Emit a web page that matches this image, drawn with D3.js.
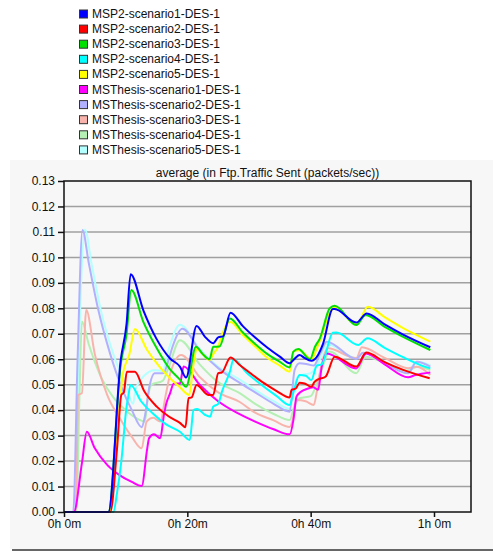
<!DOCTYPE html>
<html>
<head>
<meta charset="utf-8">
<script src="https://cdn.jsdelivr.net/npm/d3@7"></script>
<style>
  body { margin: 0; background: #fff; }
  svg { display: block; font-family: "Liberation Sans", Arial, sans-serif; }
</style>
</head>
<body>
<div id="chart"></div>
<script>
const width = 493, height = 552;

// series names (legend order)
const seriesNames = [
  "MSP2-scenario1-DES-1", "MSP2-scenario2-DES-1", "MSP2-scenario3-DES-1",
  "MSP2-scenario4-DES-1", "MSP2-scenario5-DES-1",
  "MSThesis-scenario1-DES-1", "MSThesis-scenario2-DES-1", "MSThesis-scenario3-DES-1",
  "MSThesis-scenario4-DES-1", "MSThesis-scenario5-DES-1"
];
const seriesColors = [
  "#0000ff", "#ff0000", "#00e000", "#00ffff", "#ffff00",
  "#ff00ff", "#b0b0ff", "#f8b4ac", "#b4f0b4", "#b4ffff"
];

// time in minutes / average packets per sec
const msp2s1T = [0, 7.2, 9.2, 10.15, 10.8, 12.9, 15, 17.2, 18.8, 19.8, 21.5, 22.8, 24.2, 25.0, 25.8, 27.0, 29, 31, 33, 35, 36.6, 37.2, 38.2, 39.0, 40.1, 41.2, 42.0, 43.6, 43.9, 47.4, 49.1, 52, 55, 59.4];
const msp2s1V = [0, 0, 0.0597, 0.074, 0.0934, 0.079, 0.068, 0.0603, 0.0571, 0.0528, 0.0731, 0.069, 0.0663, 0.0686, 0.069, 0.0783, 0.073, 0.0685, 0.0645, 0.061, 0.0584, 0.0597, 0.0617, 0.0605, 0.0594, 0.0617, 0.066, 0.0797, 0.0797, 0.0744, 0.078, 0.0737, 0.0697, 0.0647];

const msp2s2T = [0, 7.5, 8.6, 9.3, 9.7, 10.2, 11.5, 13, 15, 17, 18.8, 19.7, 20.2, 20.7, 21.5, 23.4, 24.2, 25, 25.6, 27.0, 28.5, 30.5, 32.5, 34.5, 36.6, 36.9, 37.6, 38.2, 39, 40.1, 40.6, 41.2, 42.4, 43.9, 47.4, 49.0, 52, 55, 59.3];
const msp2s2V = [0, 0, 0.025, 0.046, 0.047, 0.0551, 0.0551, 0.0475, 0.0415, 0.0375, 0.035, 0.0333, 0.0447, 0.045, 0.0499, 0.046, 0.046, 0.0545, 0.0548, 0.0607, 0.0577, 0.054, 0.0505, 0.0475, 0.045, 0.048, 0.0485, 0.0508, 0.0505, 0.0492, 0.051, 0.0521, 0.0531, 0.061, 0.0571, 0.0626, 0.0589, 0.0558, 0.0525];

const msp2s3T = [0, 7.2, 9.2, 10.15, 10.9, 12.9, 15, 17.2, 18.8, 19.8, 21.4, 22.5, 23.6, 24.2, 25.2, 26.9, 29, 31, 33, 35, 36.6, 37.2, 38, 39.9, 40.7, 41.5, 43.1, 43.9, 47.4, 48.9, 52, 55, 59.4];
const msp2s3V = [0, 0, 0.058, 0.07, 0.0872, 0.0745, 0.0645, 0.056, 0.052, 0.0492, 0.0649, 0.062, 0.06, 0.0649, 0.065, 0.076, 0.0705, 0.066, 0.062, 0.059, 0.0568, 0.063, 0.064, 0.06, 0.0649, 0.0682, 0.08, 0.081, 0.0734, 0.0774, 0.0727, 0.0688, 0.0636];

const msp2s4T = [0, 8.0, 8.6, 9.3, 10.15, 10.4, 10.8, 12.5, 14.5, 16.5, 18.8, 20.4, 21, 21.6, 22.9, 23.7, 24.2, 25, 25.6, 26.9, 27.5, 29.5, 32, 34.5, 36.6, 37.2, 38.2, 39.2, 40.1, 41.0, 41.8, 43.6, 44.2, 47.7, 49.2, 52, 55, 58.5, 59.4];
const msp2s4V = [0, 0, 0.0075, 0.02, 0.0414, 0.045, 0.0499, 0.0435, 0.0385, 0.0345, 0.0315, 0.0283, 0.04, 0.0405, 0.0381, 0.0374, 0.0414, 0.0425, 0.0472, 0.0551, 0.06, 0.055, 0.05, 0.0455, 0.042, 0.047, 0.0538, 0.0535, 0.0518, 0.0575, 0.058, 0.0704, 0.0705, 0.0656, 0.0682, 0.0645, 0.0608, 0.0571, 0.0564];

const msp2s5T = [0, 7.3, 9.6, 10.6, 11.5, 13.5, 15.5, 17.2, 18.8, 20.3, 21.0, 21.5, 22.5, 23.6, 24.2, 25, 25.6, 26.9, 29, 31, 33, 35, 36.6, 37.2, 38.2, 40.1, 41.2, 43.3, 43.9, 47.4, 49.3, 52, 55, 59.4];
const msp2s5V = [0, 0, 0.055, 0.062, 0.0719, 0.0635, 0.057, 0.0525, 0.049, 0.046, 0.058, 0.064, 0.062, 0.0597, 0.062, 0.065, 0.0695, 0.0747, 0.0695, 0.065, 0.0605, 0.0575, 0.0551, 0.063, 0.0635, 0.06, 0.0655, 0.079, 0.0805, 0.0736, 0.0806, 0.0765, 0.0722, 0.0669];

const mst1T = [0, 1.6, 2.9, 3.7, 5, 7, 9, 11, 12.6, 13.5, 13.8, 14.6, 15.6, 16.2, 16.6, 17.2, 17.8, 18.8, 19.4, 22, 25, 28, 31, 34, 36.6, 37.2, 37.7, 38.3, 39.7, 40.4, 41.2, 41.8, 42.6, 47.4, 49, 52, 55.8, 57, 59.4];
const mst1V = [0, 0, 0.0191, 0.0315, 0.025, 0.0185, 0.0145, 0.0118, 0.0102, 0.025, 0.029, 0.0305, 0.029, 0.038, 0.0427, 0.0466, 0.0505, 0.0505, 0.0571, 0.05, 0.0435, 0.039, 0.0355, 0.0325, 0.0305, 0.0361, 0.0453, 0.047, 0.0486, 0.049, 0.048, 0.0571, 0.0623, 0.0564, 0.0623, 0.058, 0.0529, 0.0538, 0.0548];

const mst2T = [0, 1.5, 2.2, 3.0, 4, 5.5, 7.5, 9.5, 11, 12.6, 13.1, 13.9, 14.7, 16.1, 17, 17.6, 19.2, 22, 25, 28.5, 31, 34, 36.6, 37.4, 38.2, 39.5, 40.5, 41.5, 42.6, 47.4, 48.5, 52, 55.8, 57.2, 59.4];
const mst2V = [0, 0, 0.06, 0.1108, 0.098, 0.08, 0.062, 0.048, 0.04, 0.0333, 0.0374, 0.0499, 0.0545, 0.0545, 0.06, 0.0649, 0.072, 0.0635, 0.0565, 0.0507, 0.047, 0.0425, 0.0394, 0.0558, 0.0584, 0.058, 0.0575, 0.062, 0.0669, 0.0601, 0.0625, 0.0585, 0.0545, 0.059, 0.0571];

const mst3T = [0, 1.9, 2.3, 2.9, 3.6, 5, 7, 9, 11, 12.6, 13.4, 14.5, 15.6, 16.5, 17.3, 19, 22, 25, 28.5, 31, 34, 36.6, 37.2, 37.7, 39.2, 40.5, 41.0, 41.6, 42.8, 47.4, 48.3, 52, 55.8, 57.2, 59.4];
const mst3V = [0, 0, 0.046, 0.0466, 0.0793, 0.062, 0.046, 0.037, 0.0295, 0.025, 0.0355, 0.037, 0.0355, 0.046, 0.055, 0.0617, 0.053, 0.047, 0.0432, 0.039, 0.036, 0.0334, 0.0374, 0.044, 0.0435, 0.042, 0.0473, 0.056, 0.0643, 0.0604, 0.0647, 0.0605, 0.0565, 0.057, 0.0538];

const mst4T = [0, 2.0, 2.5, 2.9, 4, 6, 8, 10, 12, 13.1, 13.6, 14.2, 16, 17, 18.8, 22, 25, 28.5, 31, 34, 36.6, 37.4, 38.2, 40, 41.5, 43.1, 47.4, 48.9, 52, 55.8, 57.2, 59.4];
const mst4V = [0, 0, 0.045, 0.0748, 0.066, 0.053, 0.045, 0.04, 0.0365, 0.0355, 0.045, 0.05, 0.0515, 0.057, 0.0675, 0.058, 0.051, 0.0467, 0.0425, 0.0385, 0.0361, 0.042, 0.0447, 0.0455, 0.054, 0.063, 0.0545, 0.061, 0.0585, 0.0555, 0.057, 0.0557];

const mst5T = [0, 1.8, 2.5, 3.4, 4.5, 6, 8, 10, 11.2, 11.6, 13, 14.7, 16, 17, 18.8, 22, 25, 28.5, 31, 34, 36.6, 37.4, 38.2, 40, 41.5, 42.6, 47.4, 48.5, 52, 55.8, 57.2, 59.4];
const mst5V = [0, 0, 0.07, 0.111, 0.097, 0.079, 0.062, 0.05, 0.0425, 0.048, 0.0535, 0.0557, 0.0555, 0.064, 0.0735, 0.064, 0.057, 0.052, 0.048, 0.0435, 0.0405, 0.05, 0.0538, 0.0545, 0.06, 0.066, 0.0605, 0.0625, 0.059, 0.0555, 0.059, 0.0577];

const seriesT = [msp2s1T, msp2s2T, msp2s3T, msp2s4T, msp2s5T, mst1T, mst2T, mst3T, mst4T, mst5T];
const seriesV = [msp2s1V, msp2s2V, msp2s3V, msp2s4V, msp2s5V, mst1V, mst2V, mst3V, mst4V, mst5V];

const xTicks = [0, 20, 40, 60];
const xTickLabels = ["0h 0m", "0h 20m", "0h 40m", "1h 0m"];
const yTicks = d3.range(0, 14).map(i => i / 100);

const title = "average (in Ftp.Traffic Sent (packets/sec))";

const plot = { left: 64, right: 471, top: 181, bottom: 512 };

const x = d3.scaleLinear().domain([0, 66]).range([plot.left, plot.right]);
const y = d3.scaleLinear().domain([0, 0.13]).range([plot.bottom, plot.top]);

const svg = d3.select("#chart").append("svg")
    .attr("width", width)
    .attr("height", height);

// grey panel behind the graph
svg.append("rect")
    .attr("x", 10).attr("y", 160)
    .attr("width", width - 10).attr("height", 389)
    .attr("fill", "#f7f7f7");
svg.append("line")
    .attr("x1", 12).attr("x2", width)
    .attr("y1", 550).attr("y2", 550)
    .attr("stroke", "#666").attr("stroke-width", 2);

// legend
const legend = svg.append("g");
seriesNames.forEach(function (name, i) {
    const ly = 14 + i * 15.1;
    legend.append("rect")
        .attr("x", 79.5).attr("y", ly - 4)
        .attr("width", 8).attr("height", 8)
        .attr("fill", seriesColors[i])
        .attr("stroke", "#333").attr("stroke-width", 1);
    legend.append("text")
        .attr("x", 92).attr("y", ly + 4)
        .attr("font-size", "12px")
        .attr("fill", "#111")
        .text(name);
});

// title
svg.append("text")
    .attr("x", (plot.left + plot.right) / 2)
    .attr("y", 177)
    .attr("text-anchor", "middle")
    .attr("font-size", "12px")
    .attr("fill", "#111")
    .text(title);

// grid
svg.append("g").selectAll("line")
    .data(yTicks.filter(d => d > 0 && d < 0.13)).enter()
    .append("line")
    .attr("x1", plot.left).attr("x2", plot.right)
    .attr("y1", d => y(d)).attr("y2", d => y(d))
    .attr("stroke", "#a0a0a0").attr("stroke-width", 1.5);

// lines, MSP2 scenario1 drawn last
const line = d3.line()
    .x(d => x(d[0]))
    .y(d => y(d[1]))
    .curve(d3.curveMonotoneX);

const order = [9, 8, 7, 6, 5, 4, 3, 2, 1, 0];
const lines = svg.append("g");
order.forEach(function (i) {
    const pts = seriesT[i].map((t, k) => [t, seriesV[i][k]]);
    lines.append("path")
        .datum(pts)
        .attr("fill", "none")
        .attr("stroke", seriesColors[i])
        .attr("stroke-width", 2)
        .attr("stroke-linejoin", "round")
        .attr("d", line);
});

// frame
svg.append("rect")
    .attr("x", plot.left).attr("y", plot.top)
    .attr("width", plot.right - plot.left).attr("height", plot.bottom - plot.top)
    .attr("fill", "none").attr("stroke", "#111").attr("stroke-width", 1.5);

// axes
const yAxis = svg.append("g")
    .attr("transform", "translate(" + plot.left + ",0)")
    .call(d3.axisLeft(y).tickValues(yTicks).tickFormat(d3.format(".2f")).tickSize(6).tickPadding(3));
const xAxis = svg.append("g")
    .attr("transform", "translate(0," + plot.bottom + ")")
    .call(d3.axisBottom(x).tickValues(xTicks).tickFormat((d, i) => xTickLabels[i]).tickSize(5).tickPadding(2));

[yAxis, xAxis].forEach(function (ax) {
    ax.select(".domain").remove();
    ax.selectAll("line").attr("stroke", "#111").attr("stroke-width", 1.5);
    ax.selectAll("text").attr("font-size", "12px").attr("fill", "#111")
        .attr("font-family", "'Liberation Sans', Arial, sans-serif");
});
</script>
</body>
</html>
